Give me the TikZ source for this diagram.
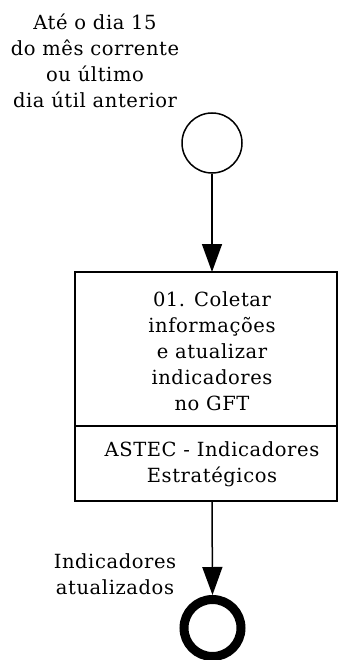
\documentclass[tikz,border=0pt]{standalone}
\usepackage{fontspec}
\setmainfont{DejaVu Serif}[LetterSpace=3]
\usetikzlibrary{arrows.meta}
\begin{document}
\begin{tikzpicture}[x=1pt,y=-1pt,
  txt/.style={align=center,font=\fontsize{19.5}{26}\selectfont,inner sep=0pt},
  flow/.style={line width=1.5pt,-{Triangle[length=28pt,width=20pt]}},
  startev/.style={circle,draw,line width=1.5pt,minimum size=60pt,inner sep=0pt},
  endev/.style={circle,draw,line width=9pt,minimum size=57pt,inner sep=0pt},
  taskbox/.style={draw,line width=1.5pt,minimum width=262pt,minimum height=229pt,inner sep=0pt}]
\useasboundingbox (0,0) rectangle (338,660);
\node[txt] (lbl1) at (95,61) {Até o dia 15\\do mês corrente\\ou último\\dia útil anterior};
\node[startev] (start) at (212,143) {};
\node[taskbox] (box) at (206,386.5) {};
\coordinate (dl) at (75,426);
\coordinate (dr) at (337,426);
\draw[line width=1.5pt] (dl) -- (dr);
\node[txt] (t1) at (212,351) {01. Coletar\\informações\\e atualizar\\indicadores\\no GFT};
\node[txt] (t2) at (212,464) {ASTEC - Indicadores\\Estratégicos};
\node[endev] (end) at (212.5,628) {};
\node[txt] (lbl2) at (115,574) {Indicadores\\atualizados};
\coordinate (a1) at (212,272);
\coordinate (a2) at (212,501);
\draw[flow] (start.south) -- (a1);
\draw[flow] (a2) -- (end.north);
\end{tikzpicture}
\end{document}
